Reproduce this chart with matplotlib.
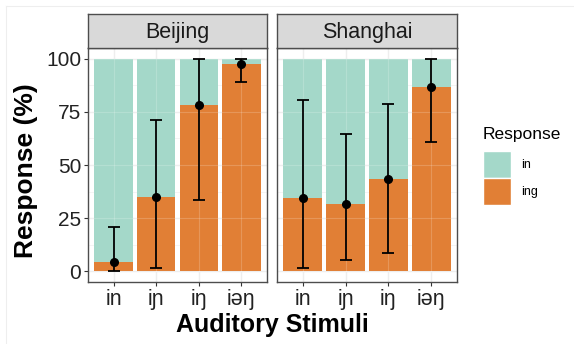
import matplotlib
matplotlib.use("Agg")
import matplotlib.pyplot as plt
from matplotlib.patches import Rectangle
from matplotlib.lines import Line2D
import numpy as np

plt.rcParams['font.family'] = ['Liberation Sans', 'DejaVu Sans']

stimuli = ["in", "iɲ", "iŋ", "iəŋ"]
cities = ["Beijing", "Shanghai"]
ing_pct = {"Beijing": [4.3, 35.0, 78.2, 97.3],
           "Shanghai": [34.6, 31.9, 43.3, 86.6]}
err_low = {"Beijing": [0.0, 1.6, 33.4, 89.0],
           "Shanghai": [1.6, 5.2, 8.6, 61.0]}
err_high = {"Beijing": [20.9, 71.0, 100.0, 100.0],
            "Shanghai": [80.5, 64.5, 78.5, 100.0]}
yticks = [0, 25, 50, 75, 100]
legend_labels = ["in", "ing"]

c_in = "#A4D8C9"
c_ing = "#E17F35"
grid_c = "#EBEBEB"
border_c = "#333333"
text_c = "#222222"

W, H = 574, 344
fig = plt.figure(figsize=(W/100, H/100), dpi=100)

def ax_rect(x0, x1, y0, y1):
    return [x0/W, 1 - y1/H, (x1-x0)/W, (y1-y0)/H]

panels = [(88, 267), (277, 457)]
ptop, pbot = 48, 282
stop = 14

for i, city in enumerate(cities):
    x0, x1 = panels[i]
    ax = fig.add_axes(ax_rect(x0, x1, ptop, pbot))
    x = np.arange(1, len(stimuli) + 1)
    ing = np.array(ing_pct[city])
    ax.set_axisbelow(True)
    ax.bar(x, ing, width=0.9, color=c_ing, edgecolor='none', zorder=2)
    ax.bar(x, 100 - ing, bottom=ing, width=0.9, color=c_in, edgecolor='none', zorder=2)
    lo = ing - np.array(err_low[city])
    hi = np.array(err_high[city]) - ing
    ax.errorbar(x, ing, yerr=[lo, hi], fmt='o', color='black', ms=5.5,
                elinewidth=1.3, capsize=4.6, capthick=1.3, zorder=3)
    ax.set_xlim(0.4, 4.6)
    ax.set_ylim(-5, 105)
    ax.set_xticks(x)
    ax.set_xticklabels(stimuli, fontsize=15.5, color=text_c)
    ax.set_yticks(yticks)
    ax.set_yticks([12.5, 37.5, 62.5, 87.5], minor=True)
    ax.grid(which='major', color=grid_c, lw=1.0, zorder=0)
    ax.grid(which='minor', axis='y', color='#F3F3F3', lw=0.6, zorder=0)
    for yv in yticks:
        ax.axhline(yv, color='white', lw=0.8, alpha=0.18, zorder=2.5)
    for xv in x:
        ax.axvline(xv, color='white', lw=0.8, alpha=0.18, zorder=2.5)
    if i == 0:
        ax.set_yticklabels([str(v) for v in yticks], fontsize=15, color=text_c)
        ax.tick_params(axis='y', length=3, width=0.8, color=border_c, pad=2)
    else:
        ax.tick_params(axis='y', length=0, labelleft=False)
    ax.tick_params(axis='y', which='minor', length=0)
    ax.tick_params(axis='x', length=3, width=0.8, color=border_c, pad=2)
    for s in ax.spines.values():
        s.set_color('#4D4D4D')
        s.set_linewidth(1.0)
    sax = fig.add_axes(ax_rect(x0, x1, stop, ptop))
    sax.set_facecolor('#D9D9D9')
    sax.set_xticks([]); sax.set_yticks([])
    for s in sax.spines.values():
        s.set_color('#4D4D4D')
        s.set_linewidth(1.0)
    sax.text(0.5, 0.47, city, ha='center', va='center', fontsize=15.5,
             color='#1A1A1A', transform=sax.transAxes)

fig.text(26/W, 1 - 171/H, "Response (%)", rotation=90, ha='center', va='center',
         fontsize=19, fontweight='bold', color='black')
fig.text(272.5/W, 1 - 325/H, "Auditory Stimuli", ha='center', va='center',
         fontsize=18, fontweight='bold', color='black')

# legend drawn manually
fig.text(483/W, 1 - 135/H, "Response", ha='left', va='center', fontsize=12.5,
         color='black')
key_cols = [c_in, c_ing]
key_tops = [151, 178]
for lab, col, kt in zip(legend_labels, key_cols, key_tops):
    fig.add_artist(Rectangle((483/W, 1 - (kt + 27)/H), 28/W, 27/H,
                             transform=fig.transFigure, facecolor=col,
                             edgecolor='white', lw=1.0))
    fig.text(521/W, 1 - (kt + 14)/H, lab, ha='left', va='center', fontsize=9,
             color='black')

fig.add_artist(Line2D([6/W, 1], [1 - 6/H, 1 - 6/H], color='#EEEEEE', lw=0.8))
fig.add_artist(Line2D([6/W, 6/W], [0, 1 - 6/H], color='#EEEEEE', lw=0.8))

fig.savefig("out.png", dpi=100)
